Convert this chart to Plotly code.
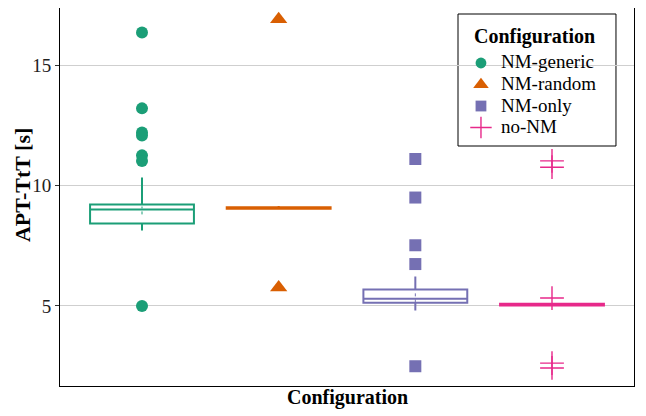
import plotly.graph_objects as go

categories = ["NM-generic", "NM-random", "NM-only", "no-NM"]
colors = ["#1b9e77", "#d95f02", "#7570b3", "#e7298a"]
symbols = ["circle", "triangle-up", "square", "cross-thin"]

q1 = [8.42, 9.03, 5.13, 5.02]
median = [9.0, 9.07, 5.3, 5.06]
q3 = [9.21, 9.10, 5.68, 5.09]
lower_fence = [8.13, 9.0, 4.81, 5.0]
upper_fence = [10.33, 9.15, 6.22, 5.1]
mean_lo = [8.8, 9.05, 5.15, 5.05]
mean_hi = [9.13, 9.09, 5.6, 5.07]

outliers = [
    [16.35, 13.2, 12.2, 12.07, 11.25, 11.02, 5.0],
    [16.9, 5.77],
    [11.1, 9.5, 7.52, 6.74, 2.5],
    [11.02, 10.76, 5.33, 2.63, 2.43],
]

y_ticks = [5, 10, 15]

FONT = "Liberation Serif, Times New Roman, serif"

fig = go.Figure()
for i, c in enumerate(categories):
    fig.add_trace(go.Box(
        x=[c], q1=[q1[i]], median=[median[i]], q3=[q3[i]],
        lowerfence=[lower_fence[i]], upperfence=[upper_fence[i]],
        width=0.76, fillcolor="rgba(255,255,255,0)",
        line=dict(color=colors[i], width=2), whiskerwidth=0,
        showlegend=False, hoverinfo="skip", boxpoints=False,
    ))
    fig.add_trace(go.Scatter(
        x=[c, c], y=[mean_lo[i], mean_hi[i]], mode="lines",
        line=dict(color=colors[i], width=1, dash="dot"),
        showlegend=False, hoverinfo="skip",
    ))


def marker_style(i, size_scale=1.0):
    if symbols[i] == "cross-thin":
        return dict(color=colors[i], size=17 * size_scale, symbol="cross-thin",
                    line=dict(color=colors[i], width=1.4))
    if symbols[i] == "triangle-up":
        return dict(color=colors[i], size=15 * size_scale, symbol="triangle-up")
    return dict(color=colors[i], size=12 * size_scale, symbol=symbols[i])


for i, c in enumerate(categories):
    fig.add_trace(go.Scatter(
        x=[c] * len(outliers[i]), y=outliers[i], mode="markers",
        marker=marker_style(i), name=c, showlegend=False,
    ))

# ---- manual legend (ggplot-style, compact spacing) ----
leg_x0, leg_x1, leg_y0, leg_y1 = 0.6934, 0.9686, 0.6349, 0.9841
leg_sym_x, leg_txt_x, leg_title_x, leg_title_y = 0.7334, 0.7666, 0.8258, 0.9233
leg_rows = [0.8545, 0.7976, 0.7407, 0.6839]
fig.add_shape(type="rect", xref="paper", yref="paper",
              x0=leg_x0, x1=leg_x1, y0=leg_y0, y1=leg_y1,
              line=dict(color="black", width=1), fillcolor="white", layer="between")
for i, c in enumerate(categories):
    fig.add_trace(go.Scatter(
        x=[leg_sym_x], y=[leg_rows[i]], xaxis="x2", yaxis="y2", mode="markers",
        marker=marker_style(i, 0.9), showlegend=False, hoverinfo="skip",
    ))
    fig.add_annotation(x=leg_txt_x, y=leg_rows[i], xref="paper", yref="paper",
                       text=c, showarrow=False, xanchor="left", yanchor="middle",
                       borderpad=0, yshift=1,
                       font=dict(family=FONT, size=19, color="black"))
fig.add_annotation(x=leg_title_x, y=leg_title_y, xref="paper", yref="paper",
                   text="<b>Configuration</b>", showarrow=False,
                   xanchor="center", yanchor="middle", borderpad=0,
                   font=dict(family=FONT, size=20, color="black"))

# axis titles
fig.add_annotation(x=0.5, y=-0.0317, xref="paper", yref="paper",
                   text="<b>Configuration</b>", showarrow=False,
                   xanchor="center", yanchor="middle",
                   font=dict(family=FONT, size=20, color="black"))
fig.add_annotation(x=-0.0662, y=0.5317, xref="paper", yref="paper",
                   text="<b>APT-TtT [s]</b>", showarrow=False, textangle=-90,
                   xanchor="center", yanchor="middle",
                   font=dict(family=FONT, size=22, color="black"))

fig.update_layout(
    width=646, height=416,
    margin=dict(l=52, r=20, t=0, b=38),
    plot_bgcolor="white", paper_bgcolor="white",
    font=dict(family=FONT, size=20, color="black"),
    boxmode="overlay",
    showlegend=False,
    xaxis=dict(
        type="category", categoryorder="array", categoryarray=categories,
        range=[-0.6, 3.6], showticklabels=False, ticks="",
        showgrid=False, showline=True, linecolor="black", linewidth=1, mirror=True,
        automargin=False, zeroline=False,
    ),
    yaxis=dict(
        range=[1.68, 17.365], tickvals=y_ticks, ticks="outside", ticklen=4,
        tickcolor="#333", tickfont=dict(family=FONT, size=19, color="#222"),
        showgrid=True, gridcolor="#cfcfcf", gridwidth=1,
        showline=True, linecolor="black", linewidth=1, mirror=True,
        zeroline=False, automargin=False,
    ),
    xaxis2=dict(range=[0, 1], overlaying="x", visible=False, fixedrange=True),
    yaxis2=dict(range=[0, 1], overlaying="y", visible=False, fixedrange=True),
)
fig.write_html("out.html")
